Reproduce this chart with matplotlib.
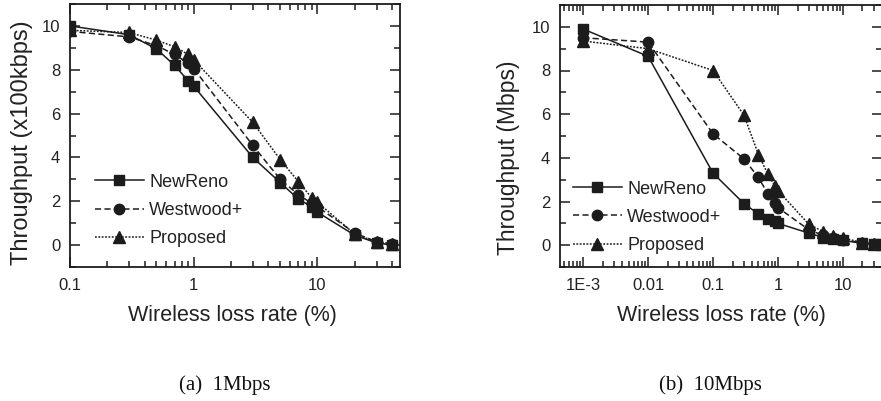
import numpy as np
import matplotlib
matplotlib.use('Agg')
from matplotlib import pyplot as plt
from matplotlib.ticker import FixedLocator, FixedFormatter, LogLocator, MultipleLocator, NullFormatter

plt.rcParams['font.family'] = ['Liberation Sans', 'DejaVu Sans']

# (a) 1Mbps
loss_a = [0.1, 0.3, 0.5, 0.7, 0.9, 1, 3, 5, 7, 9, 10, 20, 30, 40]
newreno_a = [10.0, 9.6, 8.95, 8.2, 7.5, 7.25, 4.0, 2.85, 2.1, 1.75, 1.5, 0.45, 0.1, 0.0]
westwood_a = [9.75, 9.5, 9.1, 8.7, 8.3, 8.05, 4.55, 3.0, 2.3, 1.9, 1.75, 0.55, 0.15, 0.05]
proposed_a = [9.8, 9.7, 9.35, 9.05, 8.7, 8.45, 5.6, 3.9, 2.9, 2.15, 1.95, 0.5, 0.15, 0.05]

# (b) 10Mbps
loss_b = [1e-3, 0.01, 0.1, 0.3, 0.5, 0.7, 0.9, 1, 3, 5, 7, 10, 20, 30, 40]
newreno_b = [9.9, 8.65, 3.3, 1.9, 1.43, 1.2, 1.1, 1.0, 0.55, 0.35, 0.3, 0.22, 0.08, 0.06, 0.05]
westwood_b = [9.5, 9.3, 5.1, 3.95, 3.1, 2.35, 1.95, 1.72, 0.7, 0.45, 0.32, 0.25, 0.1, 0.06, 0.05]
proposed_b = [9.35, 9.0, 8.0, 5.95, 4.15, 3.25, 2.7, 2.5, 0.95, 0.62, 0.42, 0.33, 0.12, 0.07, 0.05]

labels = ['NewReno', 'Westwood+', 'Proposed']
ink = '#1c1c1c'

fig = plt.figure(figsize=(8.81, 4.01), dpi=100)
ax1 = fig.add_axes([70 / 881, 1 - 267 / 401, 329.5 / 881, 263 / 401])
ax2 = fig.add_axes([560 / 881, 1 - 267 / 401, 322 / 881, 262 / 401])


def draw(ax, x, ys):
    styles = [('s', '-'), ('o', (0, (4, 2.2))), ('^', (0, (1.2, 1.0)))]
    sizes = [7.5, 7.5, 8.5]
    for y, (m, ls), ms, lab in zip(ys, styles, sizes, labels):
        ax.plot(x, y, color=ink, marker=m, markersize=ms, linestyle=ls,
                linewidth=1.1, label=lab)
    ax.set_xscale('log')
    ax.set_ylim(-1, 11)
    ax.yaxis.set_major_locator(MultipleLocator(2))
    ax.yaxis.set_minor_locator(MultipleLocator(1))
    ax.xaxis.set_minor_locator(LogLocator(base=10, subs=np.arange(2, 10)))
    ax.xaxis.set_minor_formatter(NullFormatter())
    ax.tick_params(which='both', direction='in', top=True, right=True,
                   colors=ink, labelcolor='#222222', width=1.1)
    ax.tick_params(which='major', length=7, labelsize=12)
    ax.tick_params(which='minor', length=4)
    ax.tick_params(axis='x', pad=8)
    ax.tick_params(axis='y', pad=7)
    for s in ax.spines.values():
        s.set_linewidth(1.3)
        s.set_color(ink)


draw(ax1, loss_a, [newreno_a, westwood_a, proposed_a])
ax1.set_xlim(0.1, 46)
ax1.xaxis.set_major_locator(FixedLocator([0.1, 1, 10]))
ax1.xaxis.set_major_formatter(FixedFormatter(['0.1', '1', '10']))

draw(ax2, loss_b, [newreno_b, westwood_b, proposed_b])
ax2.set_xlim(4.4e-4, 40)
ax2.xaxis.set_major_locator(FixedLocator([1e-3, 0.01, 0.1, 1, 10]))
ax2.xaxis.set_major_formatter(FixedFormatter(['1E-3', '0.01', '0.1', '1', '10']))

for ax, anchor in [(ax1, (0.076, 0.355)), (ax2, (0.04, 0.33))]:
    ax.legend(loc='upper left', bbox_to_anchor=anchor, frameon=False,
              fontsize=13, handlelength=2.7, handletextpad=0.3,
              labelspacing=0.62, borderpad=0, borderaxespad=0,
              labelcolor='#222222')

tc = '#222222'
fig.text(232 / 881, 1 - 315 / 401, 'Wireless loss rate (%)', ha='center', va='center',
         fontsize=15.5, color=tc)
fig.text(721 / 881, 1 - 315 / 401, 'Wireless loss rate (%)', ha='center', va='center',
         fontsize=15.5, color=tc)
fig.text(22 / 881, 1 - 143 / 401, 'Throughput (x100kbps)', ha='center', va='center',
         rotation=90, fontsize=17, color=tc)
fig.text(508 / 881, 1 - 158 / 401, 'Throughput (Mbps)', ha='center', va='center',
         rotation=90, fontsize=16.5, color=tc)
fig.text(225 / 881, 1 - 385 / 401, '(a)  1Mbps', ha='center', va='center',
         fontsize=15, family='Liberation Serif', color='#111111')
fig.text(710 / 881, 1 - 385 / 401, '(b)  10Mbps', ha='center', va='center',
         fontsize=15, family='Liberation Serif', color='#111111')

plt.savefig('out.png', dpi=100)
plt.close()
